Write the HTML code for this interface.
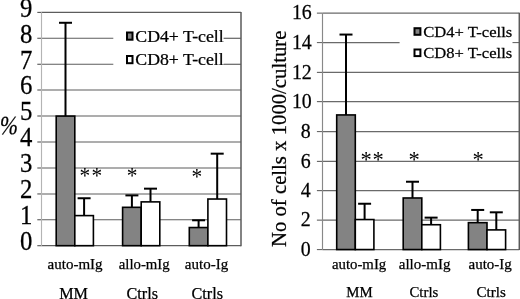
<!DOCTYPE html>
<html><head><meta charset="utf-8"><style>
html,body{margin:0;padding:0;background:#fff;}
svg{display:block;}
text{font-family:"Liberation Serif", "Times New Roman", serif;fill:#000;stroke:#000;stroke-width:0.25px;}
</style></head><body>
<svg width="520" height="299" viewBox="0 0 520 299">
<rect x="0" y="0" width="520" height="299" fill="#fff"/>
<line x1="41.50" y1="245.68" x2="241.00" y2="245.68" stroke="#5c5c5c" stroke-width="1.15"/>
<line x1="37.30" y1="245.68" x2="41.50" y2="245.68" stroke="#5c5c5c" stroke-width="1.15"/>
<text transform="translate(32.30,249.98) scale(1.03,1.1)" x="0" y="0" font-size="24" text-anchor="end" >0</text>
<line x1="41.50" y1="219.74" x2="241.00" y2="219.74" stroke="#5c5c5c" stroke-width="1.15"/>
<line x1="37.30" y1="219.74" x2="41.50" y2="219.74" stroke="#5c5c5c" stroke-width="1.15"/>
<text transform="translate(32.30,224.04) scale(1.03,1.1)" x="0" y="0" font-size="24" text-anchor="end" >1</text>
<line x1="41.50" y1="193.95" x2="241.00" y2="193.95" stroke="#5c5c5c" stroke-width="1.15"/>
<line x1="37.30" y1="193.95" x2="41.50" y2="193.95" stroke="#5c5c5c" stroke-width="1.15"/>
<text transform="translate(32.30,198.25) scale(1.03,1.1)" x="0" y="0" font-size="24" text-anchor="end" >2</text>
<line x1="41.50" y1="168.00" x2="241.00" y2="168.00" stroke="#5c5c5c" stroke-width="1.15"/>
<line x1="37.30" y1="168.00" x2="41.50" y2="168.00" stroke="#5c5c5c" stroke-width="1.15"/>
<text transform="translate(32.30,172.30) scale(1.03,1.1)" x="0" y="0" font-size="24" text-anchor="end" >3</text>
<line x1="41.50" y1="142.00" x2="241.00" y2="142.00" stroke="#5c5c5c" stroke-width="1.15"/>
<line x1="37.30" y1="142.00" x2="41.50" y2="142.00" stroke="#5c5c5c" stroke-width="1.15"/>
<text transform="translate(32.30,146.30) scale(1.03,1.1)" x="0" y="0" font-size="24" text-anchor="end" >4</text>
<line x1="41.50" y1="116.00" x2="241.00" y2="116.00" stroke="#5c5c5c" stroke-width="1.15"/>
<line x1="37.30" y1="116.00" x2="41.50" y2="116.00" stroke="#5c5c5c" stroke-width="1.15"/>
<text transform="translate(32.30,120.30) scale(1.03,1.1)" x="0" y="0" font-size="24" text-anchor="end" >5</text>
<line x1="41.50" y1="90.00" x2="241.00" y2="90.00" stroke="#5c5c5c" stroke-width="1.15"/>
<line x1="37.30" y1="90.00" x2="41.50" y2="90.00" stroke="#5c5c5c" stroke-width="1.15"/>
<text transform="translate(32.30,94.30) scale(1.03,1.1)" x="0" y="0" font-size="24" text-anchor="end" >6</text>
<line x1="41.50" y1="64.28" x2="113.30" y2="64.28" stroke="#5c5c5c" stroke-width="1.15"/>
<line x1="223.60" y1="64.28" x2="241.00" y2="64.28" stroke="#5c5c5c" stroke-width="1.15"/>
<line x1="37.30" y1="64.28" x2="41.50" y2="64.28" stroke="#5c5c5c" stroke-width="1.15"/>
<text transform="translate(32.30,68.58) scale(1.03,1.1)" x="0" y="0" font-size="24" text-anchor="end" >7</text>
<line x1="41.50" y1="38.28" x2="113.30" y2="38.28" stroke="#5c5c5c" stroke-width="1.15"/>
<line x1="223.60" y1="38.28" x2="241.00" y2="38.28" stroke="#5c5c5c" stroke-width="1.15"/>
<line x1="37.30" y1="38.28" x2="41.50" y2="38.28" stroke="#5c5c5c" stroke-width="1.15"/>
<text transform="translate(32.30,42.58) scale(1.03,1.1)" x="0" y="0" font-size="24" text-anchor="end" >8</text>
<line x1="41.50" y1="12.41" x2="241.00" y2="12.41" stroke="#5c5c5c" stroke-width="1.15"/>
<line x1="37.30" y1="12.41" x2="41.50" y2="12.41" stroke="#5c5c5c" stroke-width="1.15"/>
<text transform="translate(32.30,16.71) scale(1.03,1.1)" x="0" y="0" font-size="24" text-anchor="end" >9</text>
<line x1="41.50" y1="12.41" x2="41.50" y2="245.68" stroke="#b4b4b4" stroke-width="1.15"/>
<line x1="241.00" y1="11.91" x2="241.00" y2="246.18" stroke="#5a5a5a" stroke-width="1.5"/>
<line x1="65.50" y1="116.09" x2="65.50" y2="22.78" stroke="#000" stroke-width="2"/>
<line x1="59.00" y1="22.78" x2="72.00" y2="22.78" stroke="#000" stroke-width="2"/>
<rect x="56.20" y="116.09" width="18.60" height="129.59" fill="#838383" stroke="#000" stroke-width="1.6"/>
<line x1="84.10" y1="215.61" x2="84.10" y2="198.25" stroke="#000" stroke-width="2"/>
<line x1="77.60" y1="198.25" x2="90.60" y2="198.25" stroke="#000" stroke-width="2"/>
<rect x="74.80" y="215.61" width="18.60" height="30.07" fill="#fff" stroke="#000" stroke-width="1.6"/>
<line x1="131.90" y1="207.32" x2="131.90" y2="195.40" stroke="#000" stroke-width="2"/>
<line x1="125.40" y1="195.40" x2="138.40" y2="195.40" stroke="#000" stroke-width="2"/>
<rect x="122.60" y="207.32" width="18.60" height="38.36" fill="#838383" stroke="#000" stroke-width="1.6"/>
<line x1="150.50" y1="201.88" x2="150.50" y2="188.66" stroke="#000" stroke-width="2"/>
<line x1="144.00" y1="188.66" x2="157.00" y2="188.66" stroke="#000" stroke-width="2"/>
<rect x="141.20" y="201.88" width="18.60" height="43.80" fill="#fff" stroke="#000" stroke-width="1.6"/>
<line x1="198.60" y1="227.54" x2="198.60" y2="220.28" stroke="#000" stroke-width="2"/>
<line x1="192.10" y1="220.28" x2="205.10" y2="220.28" stroke="#000" stroke-width="2"/>
<rect x="189.30" y="227.54" width="18.60" height="18.14" fill="#838383" stroke="#000" stroke-width="1.6"/>
<line x1="217.20" y1="199.03" x2="217.20" y2="153.67" stroke="#000" stroke-width="2"/>
<line x1="210.70" y1="153.67" x2="223.70" y2="153.67" stroke="#000" stroke-width="2"/>
<rect x="207.90" y="199.03" width="18.60" height="46.65" fill="#fff" stroke="#000" stroke-width="1.6"/>
<text transform="translate(79.60,182.90) scale(0.93,1.0)" x="0" y="0" font-size="23" text-anchor="start" style="stroke:none;letter-spacing:1.4px">**</text>
<text transform="translate(126.80,182.90) scale(0.93,1.0)" x="0" y="0" font-size="23" text-anchor="start" style="stroke:none;letter-spacing:1.4px">*</text>
<text transform="translate(191.50,183.50) scale(0.93,1.0)" x="0" y="0" font-size="23" text-anchor="start" style="stroke:none;letter-spacing:1.4px">*</text>
<rect x="127.00" y="32.50" width="5.50" height="7.20" fill="#838383" stroke="#000" stroke-width="2.0"/>
<text transform="translate(135.30,41.70) scale(1.11,1.0)" x="0" y="0" font-size="16" text-anchor="start" >CD4+ T-cell</text>
<rect x="127.00" y="56.00" width="5.50" height="7.20" fill="#fff" stroke="#000" stroke-width="2.0"/>
<text transform="translate(135.30,65.00) scale(1.11,1.0)" x="0" y="0" font-size="16" text-anchor="start" >CD8+ T-cell</text>
<text x="75.10" y="268.70" font-size="15" text-anchor="middle" >auto-mIg</text>
<text x="144.20" y="268.70" font-size="14.8" text-anchor="middle" >allo-mIg</text>
<text x="206.50" y="268.70" font-size="15" text-anchor="middle" >auto-Ig</text>
<text x="73.60" y="298.60" font-size="16.2" text-anchor="middle" >MM</text>
<text x="142.30" y="299.20" font-size="16.2" text-anchor="middle" >Ctrls</text>
<text x="207.20" y="299.20" font-size="16.2" text-anchor="middle" >Ctrls</text>
<line x1="322.50" y1="249.55" x2="519.30" y2="249.55" stroke="#6a6a6a" stroke-width="1.15"/>
<line x1="316.90" y1="249.55" x2="322.50" y2="249.55" stroke="#6a6a6a" stroke-width="1.15"/>
<text transform="translate(310.80,255.85) scale(0.97,1.03)" x="0" y="0" font-size="20.5" text-anchor="end" >0</text>
<line x1="322.50" y1="220.14" x2="519.30" y2="220.14" stroke="#6a6a6a" stroke-width="1.15"/>
<line x1="316.90" y1="220.14" x2="322.50" y2="220.14" stroke="#6a6a6a" stroke-width="1.15"/>
<text transform="translate(310.80,226.44) scale(0.97,1.03)" x="0" y="0" font-size="20.5" text-anchor="end" >2</text>
<line x1="322.50" y1="190.60" x2="519.30" y2="190.60" stroke="#6a6a6a" stroke-width="1.15"/>
<line x1="316.90" y1="190.60" x2="322.50" y2="190.60" stroke="#6a6a6a" stroke-width="1.15"/>
<text transform="translate(310.80,196.90) scale(0.97,1.03)" x="0" y="0" font-size="20.5" text-anchor="end" >4</text>
<line x1="322.50" y1="161.41" x2="519.30" y2="161.41" stroke="#6a6a6a" stroke-width="1.15"/>
<line x1="316.90" y1="161.41" x2="322.50" y2="161.41" stroke="#6a6a6a" stroke-width="1.15"/>
<text transform="translate(310.80,167.71) scale(0.97,1.03)" x="0" y="0" font-size="20.5" text-anchor="end" >6</text>
<line x1="322.50" y1="131.55" x2="519.30" y2="131.55" stroke="#6a6a6a" stroke-width="1.15"/>
<line x1="316.90" y1="131.55" x2="322.50" y2="131.55" stroke="#6a6a6a" stroke-width="1.15"/>
<text transform="translate(310.80,137.85) scale(0.97,1.03)" x="0" y="0" font-size="20.5" text-anchor="end" >8</text>
<line x1="322.50" y1="101.60" x2="519.30" y2="101.60" stroke="#6a6a6a" stroke-width="1.15"/>
<line x1="316.90" y1="101.60" x2="322.50" y2="101.60" stroke="#6a6a6a" stroke-width="1.15"/>
<text transform="translate(311.80,107.90) scale(0.97,1.03)" x="0" y="0" font-size="20.5" text-anchor="end" >10</text>
<line x1="322.50" y1="72.41" x2="519.30" y2="72.41" stroke="#6a6a6a" stroke-width="1.15"/>
<line x1="316.90" y1="72.41" x2="322.50" y2="72.41" stroke="#6a6a6a" stroke-width="1.15"/>
<text transform="translate(311.80,78.71) scale(0.97,1.03)" x="0" y="0" font-size="20.5" text-anchor="end" >12</text>
<line x1="322.50" y1="42.55" x2="399.60" y2="42.55" stroke="#6a6a6a" stroke-width="1.15"/>
<line x1="512.50" y1="42.55" x2="519.30" y2="42.55" stroke="#6a6a6a" stroke-width="1.15"/>
<line x1="316.90" y1="42.55" x2="322.50" y2="42.55" stroke="#6a6a6a" stroke-width="1.15"/>
<text transform="translate(311.80,48.85) scale(0.97,1.03)" x="0" y="0" font-size="20.5" text-anchor="end" >14</text>
<line x1="322.50" y1="13.14" x2="519.30" y2="13.14" stroke="#6a6a6a" stroke-width="1.15"/>
<line x1="316.90" y1="13.14" x2="322.50" y2="13.14" stroke="#6a6a6a" stroke-width="1.15"/>
<text transform="translate(311.80,19.44) scale(0.97,1.03)" x="0" y="0" font-size="20.5" text-anchor="end" >16</text>
<line x1="322.50" y1="13.13" x2="322.50" y2="249.55" stroke="#888888" stroke-width="1.15"/>
<line x1="519.30" y1="12.63" x2="519.30" y2="250.05" stroke="#5a5a5a" stroke-width="1.5"/>
<line x1="346.00" y1="114.94" x2="346.00" y2="34.56" stroke="#000" stroke-width="2"/>
<line x1="339.50" y1="34.56" x2="352.50" y2="34.56" stroke="#000" stroke-width="2"/>
<rect x="336.70" y="114.94" width="18.60" height="134.61" fill="#838383" stroke="#000" stroke-width="1.6"/>
<line x1="364.60" y1="219.55" x2="364.60" y2="203.74" stroke="#000" stroke-width="2"/>
<line x1="358.10" y1="203.74" x2="371.10" y2="203.74" stroke="#000" stroke-width="2"/>
<rect x="355.30" y="219.55" width="18.60" height="30.00" fill="#fff" stroke="#000" stroke-width="1.6"/>
<line x1="412.50" y1="197.98" x2="412.50" y2="181.73" stroke="#000" stroke-width="2"/>
<line x1="406.00" y1="181.73" x2="419.00" y2="181.73" stroke="#000" stroke-width="2"/>
<rect x="403.20" y="197.98" width="18.60" height="51.57" fill="#838383" stroke="#000" stroke-width="1.6"/>
<line x1="431.10" y1="224.73" x2="431.10" y2="217.63" stroke="#000" stroke-width="2"/>
<line x1="424.60" y1="217.63" x2="437.60" y2="217.63" stroke="#000" stroke-width="2"/>
<rect x="421.80" y="224.73" width="18.60" height="24.82" fill="#fff" stroke="#000" stroke-width="1.6"/>
<line x1="477.70" y1="222.66" x2="477.70" y2="209.95" stroke="#000" stroke-width="2"/>
<line x1="471.20" y1="209.95" x2="484.20" y2="209.95" stroke="#000" stroke-width="2"/>
<rect x="468.40" y="222.66" width="18.60" height="26.89" fill="#838383" stroke="#000" stroke-width="1.6"/>
<line x1="496.30" y1="229.90" x2="496.30" y2="212.31" stroke="#000" stroke-width="2"/>
<line x1="489.80" y1="212.31" x2="502.80" y2="212.31" stroke="#000" stroke-width="2"/>
<rect x="487.00" y="229.90" width="18.60" height="19.65" fill="#fff" stroke="#000" stroke-width="1.6"/>
<text transform="translate(360.50,166.50) scale(0.98,1.0)" x="0" y="0" font-size="23" text-anchor="start" style="stroke:none;letter-spacing:0.8px">**</text>
<text transform="translate(408.40,166.50) scale(0.98,1.0)" x="0" y="0" font-size="23" text-anchor="start" style="stroke:none;letter-spacing:0.8px">*</text>
<text transform="translate(472.40,166.50) scale(0.98,1.0)" x="0" y="0" font-size="23" text-anchor="start" style="stroke:none;letter-spacing:0.8px">*</text>
<rect x="414.50" y="28.20" width="5.90" height="6.60" fill="#838383" stroke="#000" stroke-width="2.0"/>
<text transform="translate(423.20,36.70) scale(1.07,1.0)" x="0" y="0" font-size="15.5" text-anchor="start" >CD4+ T-cells</text>
<rect x="414.50" y="49.50" width="5.90" height="6.60" fill="#fff" stroke="#000" stroke-width="2.0"/>
<text transform="translate(423.20,57.90) scale(1.07,1.0)" x="0" y="0" font-size="15.5" text-anchor="start" >CD8+ T-cells</text>
<text x="359.10" y="268.70" font-size="14.8" text-anchor="middle" >auto-mIg</text>
<text x="424.60" y="268.70" font-size="15" text-anchor="middle" >allo-mIg</text>
<text x="490.20" y="268.70" font-size="15" text-anchor="middle" >auto-Ig</text>
<text x="359.50" y="297.30" font-size="14.8" text-anchor="middle" >MM</text>
<text x="423.90" y="297.00" font-size="14.8" text-anchor="middle" >Ctrls</text>
<text x="491.20" y="297.00" font-size="15" text-anchor="middle" >Ctrls</text>
<text transform="translate(-1.6,134.4) skewX(-9) scale(0.84,1)" x="0" y="0" font-size="26">%</text>
<text transform="translate(286,247) rotate(-90) scale(1.037,1)" font-size="20" x="0" y="0">No of cells x 1000/culture</text>
</svg>
</body></html>
